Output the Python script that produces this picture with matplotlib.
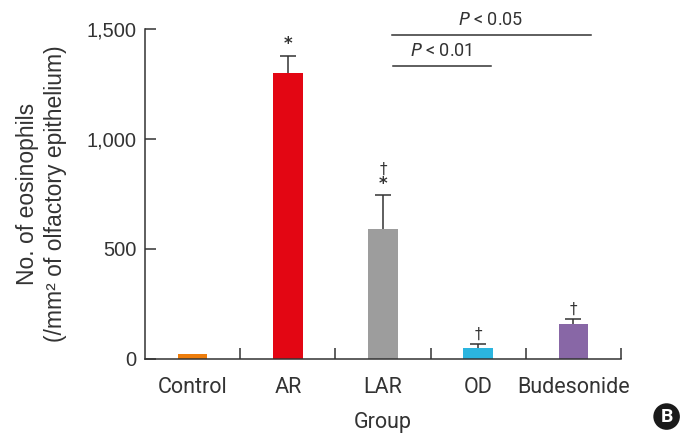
import numpy as np
import matplotlib.pyplot as plt

# Данные
groups = ['Control', 'AR', 'LAR', 'OD', 'Budesonide']
means = [23, 1300, 591, 50, 159]
errs = [0, 79, 154, 20, 23]
colors = ['#EE7D0B', '#E30613', '#9D9D9D', '#2BB5DF', '#8867A6']
stars = [False, True, True, False, False]    # * против Control
daggers = [False, False, True, True, True]   # † против AR
yticks = [0, 500, 1000, 1500]
ytick_labels = ['0', '500', '1,000', '1,500']

# Сравнения: (от, до, высота, подпись)
comparisons = [(2.09, 4.18, 1474, 'P < 0.05'), (2.1, 3.13, 1333, 'P < 0.01')]

ink = '#333333'
fig = plt.figure(figsize=(6.83, 4.33), dpi=100)
ax = fig.add_axes([0.2123, 0.171, 0.6969, 0.762])

x = np.arange(len(groups))
ax.bar(x, means, width=0.31, color=colors, zorder=2)

# Планки погрешностей только вверх
top = np.array(means) + np.array(errs)
has = np.array(errs) > 0
ax.vlines(x[has], np.array(means)[has], top[has], color=ink, lw=1.1, zorder=3)
ax.hlines(top[has], x[has] - 0.085, x[has] + 0.085, color=ink, lw=1.1, zorder=3)

for xi, t, st, dg in zip(x, top, stars, daggers):
    y = t + 10
    if st:
        ax.text(xi, y, '*', ha='center', va='bottom', fontsize=12,
                color=ink, family='DejaVu Sans', fontweight='bold')
        y += 75
    if dg:
        ax.text(xi, y, '†', ha='center', va='bottom', fontsize=11,
                color=ink, family='DejaVu Sans')

for x0, x1, y, lab in comparisons:
    ax.plot([x0, x1], [y, y], color=ink, lw=1.1, clip_on=False)
    ax.text((x0 + x1) / 2, y + 28, lab.replace('P', '$\\it{P}$'), ha='center',
            va='bottom', fontsize=13, color=ink, family='Roboto')

ax.set_xlim(-0.5, 4.5)
ax.set_ylim(0, 1500)
ax.set_yticks(yticks)
ax.set_yticklabels(ytick_labels, fontsize=14.5, family='Liberation Sans', color=ink)
ax.set_xticks(x)
ax.set_xticklabels(groups, fontsize=15.5, family='Roboto', color=ink)
ax.set_xticks(np.arange(0.5, 5, 1), minor=True)
ax.tick_params(axis='x', which='major', length=0, pad=13)
ax.tick_params(axis='x', which='minor', direction='in', length=8, width=1.1, color=ink)
ax.tick_params(axis='y', direction='in', length=8, width=1.1, color=ink, pad=6)

for sp in ['top', 'right']:
    ax.spines[sp].set_visible(False)
for sp in ['left', 'bottom']:
    ax.spines[sp].set_linewidth(1.1)
    ax.spines[sp].set_color(ink)

ax.set_xlabel('Group', fontsize=15.5, family='Roboto', color=ink, labelpad=10)
ax.set_ylabel('No. of eosinophils\n(/mm² of olfactory epithelium)', fontsize=16.5,
              family='Liberation Sans', color=ink, labelpad=14, linespacing=1.3)

fig.text(0.976, 0.038, 'B', ha='center', va='center', fontsize=14, fontweight='bold',
         color='white', family='Roboto',
         bbox=dict(boxstyle='circle,pad=0.22', fc='#1a1a1a', ec='none'))

fig.savefig('out.png', dpi=100)
